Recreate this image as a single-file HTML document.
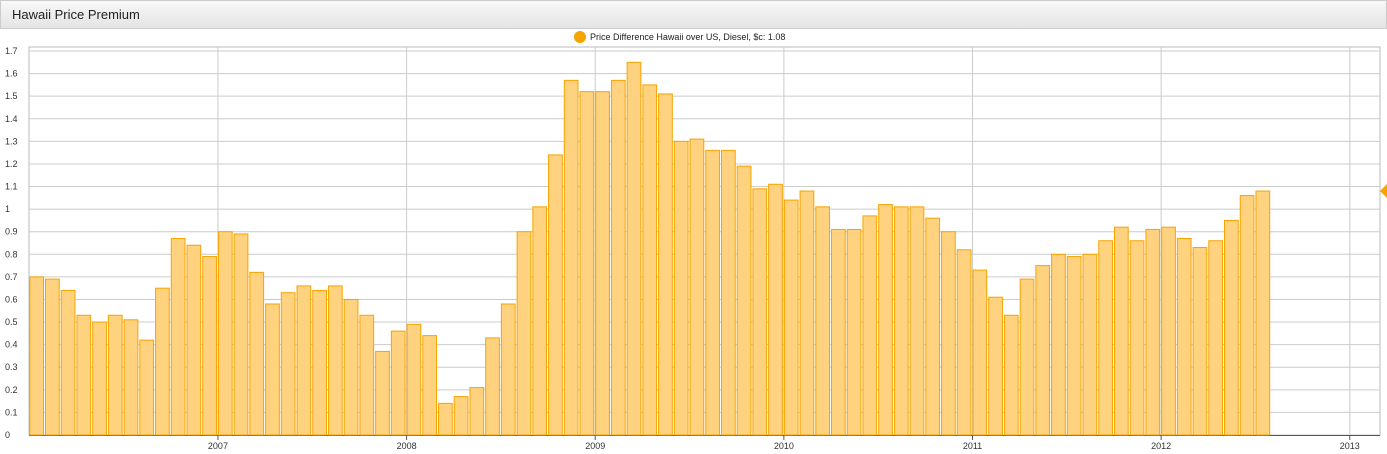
<!DOCTYPE html>
<html><head><meta charset="utf-8"><style>
body{margin:0;width:1387px;height:454px;background:#fff;overflow:hidden;font-family:"Liberation Sans",sans-serif}
#hdr{position:absolute;left:0;top:0;width:1385px;height:27px;border:1px solid #ccc;background:linear-gradient(#f8f8f8,#e4e4e4)}
#hdr span{position:absolute;left:11px;top:6px;font-size:13px;color:#222}
</style></head><body>
<div id="hdr"><span>Hawaii Price Premium</span></div>
<svg id="c" width="1387" height="454" style="position:absolute;left:0;top:0"></svg>
<script>
const startYear=2006;
const values=[0.70,0.69,0.64,0.53,0.50,0.53,0.51,0.42,0.65,0.87,0.84,0.79,
0.90,0.89,0.72,0.58,0.63,0.66,0.64,0.66,0.60,0.53,0.37,0.46,
0.49,0.44,0.14,0.17,0.21,0.43,0.58,0.90,1.01,1.24,1.57,1.52,
1.52,1.57,1.65,1.55,1.51,1.30,1.31,1.26,1.26,1.19,1.09,1.11,
1.04,1.08,1.01,0.91,0.91,0.97,1.02,1.01,1.01,0.96,0.90,0.82,
0.73,0.61,0.53,0.69,0.75,0.80,0.79,0.80,0.86,0.92,0.86,0.91,
0.92,0.87,0.83,0.86,0.95,1.06,1.08];
const yTicks=[0,0.1,0.2,0.3,0.4,0.5,0.6,0.7,0.8,0.9,1,1.1,1.2,1.3,1.4,1.5,1.6,1.7];
const xYears=[2007,2008,2009,2010,2011,2012,2013];
const NS='http://www.w3.org/2000/svg';
const svg=document.getElementById('c');
const L=29,R=1380,T=47,B=435,Y0=435,Y17=51;
const monthW=15.72;
const y=v=>Y0-(Y0-Y17)*v/1.7;
const x=m=>L+0.3+m*monthW;
function mk(t,a){const e=document.createElementNS(NS,t);for(const k in a)e.setAttribute(k,a[k]);svg.appendChild(e);return e;}
let fr=mk('rect',{x:L,y:T,width:R-L,height:B-T,fill:'#fff',stroke:'#bbb'});

yTicks.forEach(v=>{
 let g=mk('line',{x1:L,x2:R,y1:y(v),y2:y(v),stroke:'#ccc'});
 
 let t=mk('text',{x:5,y:y(v)+3,'font-size':9,fill:'#333'});t.textContent=String(v);
 
});
xYears.forEach(yr=>{
 const xx=x((yr-startYear)*12);
 let g=mk('line',{x1:xx,x2:xx,y1:T,y2:B,stroke:'#ccc'});
 
 mk('line',{x1:xx,x2:xx,y1:B,y2:B+5,stroke:'#555'});
 let t=mk('text',{x:xx,y:449,'font-size':9,fill:'#333','text-anchor':'middle'});t.textContent=yr;
 
});
mk('line',{x1:L,x2:R,y1:B+0.5,y2:B+0.5,stroke:'#555'});
values.forEach((v,i)=>{
 let b=mk('rect',{x:x(i)+0.5,y:y(v),width:monthW-2,height:Y0-y(v),fill:'#fed27e',stroke:'#f6a400','stroke-width':1});
 
});
let lc=mk('circle',{cx:580,cy:37,r:6,fill:'#f6a400'});

let lt=mk('text',{x:590,y:40,'font-size':9,fill:'#222'});lt.textContent='Price Difference Hawaii over US, Diesel, $c: 1.08';

let mkr=mk('polygon',{points:`1380,${y(1.08)} 1387,${y(1.08)-7} 1387,${y(1.08)+7}`,fill:'#f6a400'});

</script>
</body></html>
